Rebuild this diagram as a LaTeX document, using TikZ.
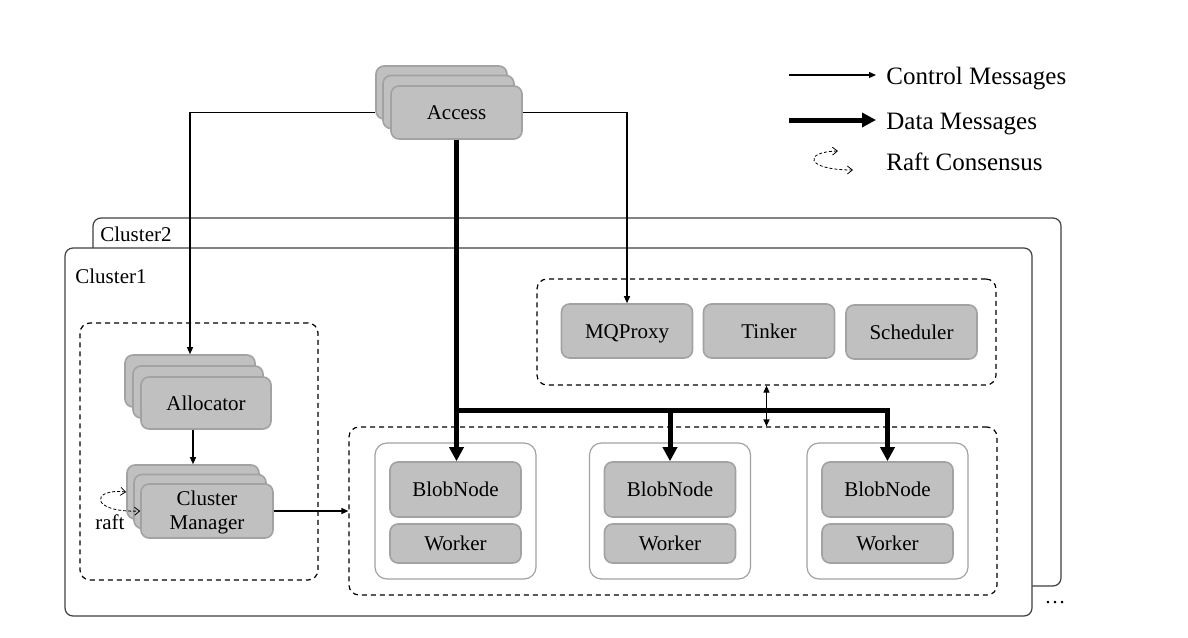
\documentclass[tikz,border=0pt]{standalone}
\usepackage{fontspec}
\setmainfont{Liberation Serif}
\usetikzlibrary{arrows.meta}
\definecolor{boxgray}{HTML}{C0C0C0}
\definecolor{edgegray}{HTML}{A2A2A2}
\definecolor{framegray}{HTML}{404040}
\begin{document}
\begin{tikzpicture}
[x=0.5pt,y=-0.5pt,%
  gbox/.style={draw=edgegray,fill=boxgray,rounded corners=4pt,thick,%
    font=\fontsize{10.5}{12}\selectfont,align=center,inner sep=0pt},%
  oneline/.style={text height=7.6pt,text depth=0.5pt},%
  stackbox/.style={gbox,minimum width=65.5pt,minimum height=26.5pt},%
  svcbox/.style={gbox,oneline,minimum width=65.5pt,minimum height=27pt},%
  hostbox/.style={draw=edgegray,fill=white,rounded corners=6pt,semithick,%
    minimum width=80.5pt,minimum height=68pt,inner sep=0pt},%
  group/.style={draw,dash pattern=on 2.5pt off 2pt,rounded corners=5pt,%
    semithick,inner sep=0pt},%
  cluster/.style={draw=framegray,fill=white,rounded corners=4pt,semithick},%
  label/.style={font=\fontsize{10.5}{12.5}\selectfont,anchor=west,inner sep=0pt},%
  legend/.style={font=\fontsize{12.5}{15}\selectfont,anchor=base west,inner sep=0pt},%
  ctrl/.style={-{Triangle[length=3.5pt,width=3pt]},semithick},%
  data/.style={-{Triangle[length=7pt,width=7pt]},line width=2.5pt},%
  raft/.style={{Straight Barb[length=2.5pt,width=4pt]}-{Straight Barb[length=2.5pt,width=4pt]},%
    dash pattern=on 1.5pt off 1pt,thin}]
\useasboundingbox (0,0) rectangle (1188,637);
% clusters
\draw[cluster] (93,218) rectangle (1061,586);
\node[label] (c2lbl) at (100,234) {Cluster2};
\draw[cluster] (65,248) rectangle (1032,616);
\node[label] (c1lbl) at (75,276) {Cluster1};
\node[font=\fontsize{10.5}{12.5}\selectfont] (more) at (1055,603) {\ldots};
% groups
\node[group,minimum width=119pt,minimum height=128.5pt] (leftgrp) at (199,451.5) {};
\node[group,minimum width=229.5pt,minimum height=53pt] (topgrp) at (766.5,332) {};
\node[group,minimum width=324pt,minimum height=84pt] (botgrp) at (673,511) {};
% access
\node[stackbox] (acc3) at (441.5,92.5) {};
\node[stackbox] (acc2) at (448.5,102) {};
\node[stackbox,oneline] (acc) at (456.5,112.5) {Access};
% allocator
\node[stackbox,minimum width=65pt,minimum height=26pt] (alloc3) at (190,381) {};
\node[stackbox,minimum width=65pt,minimum height=26pt] (alloc2) at (198,392) {};
\node[stackbox,oneline,minimum width=65pt,minimum height=26pt] (alloc) at (206,403) {Allocator};
% cluster manager
\node[stackbox,minimum width=66pt,minimum height=27pt] (cm3) at (193,492) {};
\node[stackbox,minimum width=66pt,minimum height=27pt] (cm2) at (200,501.5) {};
\node[stackbox,minimum width=66pt,minimum height=27pt] (cm) at (207,511) {\rule{0pt}{9pt}Cluster\\Manager};
% services
\node[svcbox] (mqp) at (627,331) {MQProxy};
\node[svcbox] (tinker) at (769,331) {Tinker};
\node[svcbox] (sched) at (911.5,332) {Scheduler};
% hosts
\foreach \i/\x in {1/455.5,2/670,3/887.5}{
  \node[hostbox] (host\i) at (\x,511) {};
  \node[gbox,oneline,minimum width=65.5pt,minimum height=27.5pt] (bn\i) at ([yshift=10.75pt]host\i.center) {BlobNode};
  \node[gbox,oneline,minimum width=65.5pt,minimum height=19.5pt] (wk\i) at ([yshift=-16.25pt]host\i.center) {Worker};
}
% control messages
\draw[ctrl] (acc3.west |- acc.west) -| (alloc3.north);
\draw[ctrl] (acc.east) -| (mqp.north);
\draw[ctrl] (cm3.north |- alloc.south) -- (cm3.north);
\draw[ctrl] (cm.east) -- (botgrp.west);
\draw[ctrl,{Triangle[length=3.5pt,width=3pt]}-{Triangle[length=3.5pt,width=3pt]}] (topgrp.south) -- (botgrp.north -| topgrp.south);
\draw[raft] (cm3.west) .. controls (90,488) and (90,513) .. (cm.west);
\node[label] (raftlbl) at (95,522) {raft};
% data messages
\coordinate (split) at (acc.south |- 0,410);
\draw[line width=2.5pt] (acc.south) -- (split);
\draw[data] (split) -- (split |- bn1.north);
\draw[data] (split) -| (bn2.north);
\draw[data] (split) -| (bn3.north);
% legend
\coordinate (lc0) at (789,75);
\coordinate (lc1) at (876,75);
\draw[ctrl] (lc0) -- (lc1);
\node[legend] (lctrl) at (886,84) {Control Messages};
\coordinate (ld0) at (789,120);
\coordinate (ld1) at (876,120);
\draw[data] (ld0) -- (ld1);
\node[legend] (ldata) at (886,129) {Data Messages};
\coordinate (lr0) at (838,151);
\coordinate (lr1) at (853,170);
\draw[raft] (lr0) .. controls (802,152) and (806,170) .. (lr1);
\node[legend] (lraft) at (886,170) {Raft Consensus};
\end{tikzpicture}
\end{document}
